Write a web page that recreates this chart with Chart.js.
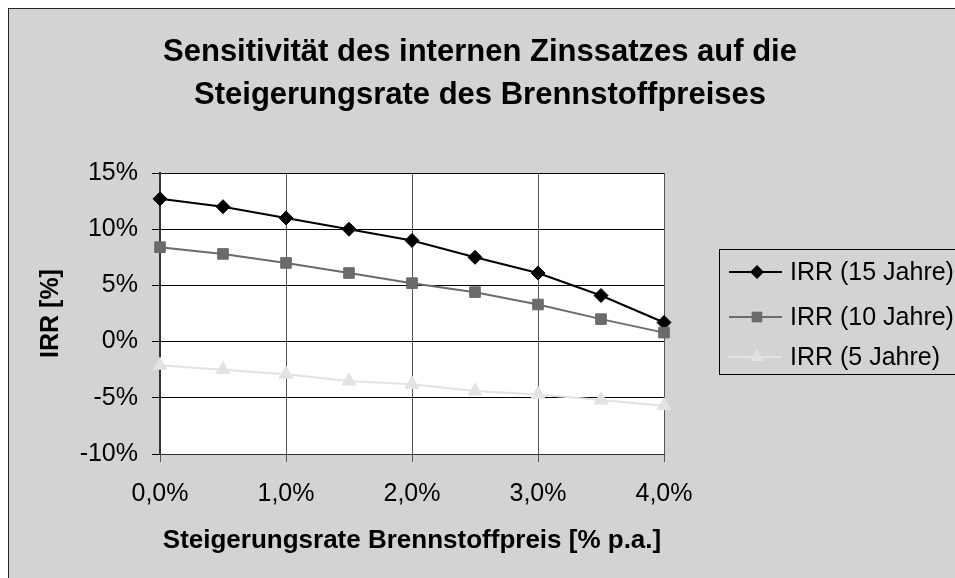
<!DOCTYPE html>
<html>
<head>
<meta charset="utf-8">
<script src="https://cdn.jsdelivr.net/npm/chart.js@4/dist/chart.umd.min.js"></script>
<style>
  html, body { margin: 0; padding: 0; background: #fff; overflow: hidden; }
  #box {
    position: absolute; left: 8px; top: 8px;
    width: 946px; height: 569px;
    border-left: 1px solid #222; border-top: 1px solid #222;
    background: #d3d3d3;
  }
  canvas { display: block; }
</style>
</head>
<body>
<div id="box"><canvas id="chart" width="946" height="569"></canvas></div>
<script>
// Steigerungsrate Brennstoffpreis in % p.a.
const rates = [0, 0.5, 1, 1.5, 2, 2.5, 3, 3.5, 4];
// IRR in %
const irr15 = [12.7, 12.0, 11.0, 10.0, 9.0, 7.5, 6.1, 4.1, 1.7];
const irr10 = [8.4, 7.8, 7.0, 6.1, 5.2, 4.4, 3.3, 2.0, 0.8];
const irr5 = [-2.1, -2.5, -2.9, -3.5, -3.8, -4.4, -4.7, -5.2, -5.7];
const seriesNames = ['IRR (15 Jahre)', 'IRR (10 Jahre)', 'IRR (5 Jahre)'];
const titleLines = ['Sensitivität des internen Zinssatzes auf die', 'Steigerungsrate des Brennstoffpreises'];
const xTitle = 'Steigerungsrate Brennstoffpreis [% p.a.]';
const yTitle = 'IRR [%]';

const FONT = "'Liberation Sans', Arial, sans-serif";

function points(values) {
    return rates.map((r, i) => ({ x: r, y: values[i] }));
}

// white plot area
const plotBg = {
    id: 'plotBg',
    beforeDraw(chart) {
        const a = chart.chartArea;
        const ctx = chart.ctx;
        ctx.save();
        ctx.fillStyle = '#fff';
        ctx.fillRect(a.left, a.top, a.right - a.left, a.bottom - a.top);
        ctx.restore();
    }
};

function marker(ctx, style, x, y, r, color) {
    ctx.fillStyle = color;
    ctx.beginPath();
    if (style === 'rectRot') {
        ctx.moveTo(x, y - r); ctx.lineTo(x + r, y); ctx.lineTo(x, y + r); ctx.lineTo(x - r, y);
    } else if (style === 'rect') {
        const s = r * Math.SQRT1_2;
        ctx.rect(x - s, y - s, 2 * s, 2 * s);
    } else {
        ctx.moveTo(x, y - r); ctx.lineTo(x + r * 0.87, y + r * 0.5); ctx.lineTo(x - r * 0.87, y + r * 0.5);
    }
    ctx.closePath();
    ctx.fill();
}

// title, x-axis title and legend box
const texts = {
    id: 'texts',
    afterDraw(chart) {
        const ctx = chart.ctx;
        const a = chart.chartArea;
        ctx.save();
        ctx.fillStyle = '#000';
        ctx.textAlign = 'center';
        ctx.textBaseline = 'alphabetic';
        ctx.font = 'bold 31px ' + FONT;
        ctx.fillText(titleLines[0], 471, 52);
        ctx.fillText(titleLines[1], 471, 95);

        ctx.font = 'bold 26px ' + FONT;
        ctx.fillText(xTitle, (a.left + a.right) / 2, 539);

        // legend
        ctx.strokeStyle = '#000';
        ctx.lineWidth = 1;
        ctx.strokeRect(710.5, 240.5, 300, 125);
        const rows = [263, 308, 348];
        ctx.font = '25px ' + FONT;
        ctx.textAlign = 'left';
        ctx.textBaseline = 'middle';
        chart.data.datasets.forEach((ds, i) => {
            const y = rows[i];
            ctx.strokeStyle = ds.borderColor;
            ctx.lineWidth = 2;
            ctx.beginPath();
            ctx.moveTo(720, y);
            ctx.lineTo(773, y);
            ctx.stroke();
            marker(ctx, ds.pointStyle, 748, y, ds.pointRadius, ds.pointBackgroundColor);
            ctx.fillStyle = '#000';
            ctx.fillText(ds.label, 781, y + 1);
        });
        ctx.restore();
    }
};

new Chart(document.getElementById('chart'), {
    type: 'line',
    data: {
        datasets: [{
            label: seriesNames[0],
            data: points(irr15),
            borderColor: '#000',
            borderWidth: 2,
            pointStyle: 'rectRot',
            pointRadius: 7,
            pointBackgroundColor: '#000',
            pointBorderColor: '#000',
            pointBorderWidth: 1,
            order: 1,
            clip: false
        }, {
            label: seriesNames[1],
            data: points(irr10),
            borderColor: '#6b6b6b',
            borderWidth: 2,
            pointStyle: 'rect',
            pointRadius: 7.5,
            pointBackgroundColor: '#6b6b6b',
            pointBorderColor: '#6b6b6b',
            pointBorderWidth: 1,
            order: 0,
            clip: false
        }, {
            label: seriesNames[2],
            data: points(irr5),
            borderColor: '#e3e3e3',
            borderWidth: 2,
            pointStyle: 'triangle',
            pointRadius: 8,
            pointBackgroundColor: '#e3e3e3',
            pointBorderColor: '#e3e3e3',
            pointBorderWidth: 1,
            order: 2,
            clip: false
        }]
    },
    options: {
        responsive: false,
        animation: false,
        devicePixelRatio: 1,
        layout: { padding: { left: 0, top: 164, right: 291, bottom: 0 } },
        plugins: {
            legend: { display: false },
            tooltip: { enabled: false },
            title: { display: false }
        },
        scales: {
            x: {
                type: 'linear',
                min: 0,
                max: 4,
                afterFit(scale) { scale.height = 124; },
                ticks: {
                    stepSize: 1,
                    color: '#000',
                    padding: 17,
                    font: { family: FONT, size: 25 },
                    callback: v => v.toFixed(1).replace('.', ',') + '%'
                },
                grid: { color: '#555', lineWidth: 1, tickLength: 8 },
                border: { color: '#333', width: 1 }
            },
            y: {
                min: -10,
                max: 15,
                afterFit(scale) { scale.width = 151; },
                ticks: {
                    stepSize: 5,
                    color: '#000',
                    padding: 14,
                    font: { family: FONT, size: 25 },
                    callback: v => v + '%'
                },
                grid: { color: '#000', lineWidth: 1, tickLength: 8 },
                border: { color: '#333', width: 2 },
                title: {
                    display: true,
                    text: yTitle,
                    color: '#000',
                    font: { family: FONT, size: 25, weight: 'bold' },
                    padding: { top: 27, bottom: 0 }
                }
            }
        }
    },
    plugins: [plotBg, texts]
});
</script>
</body>
</html>
